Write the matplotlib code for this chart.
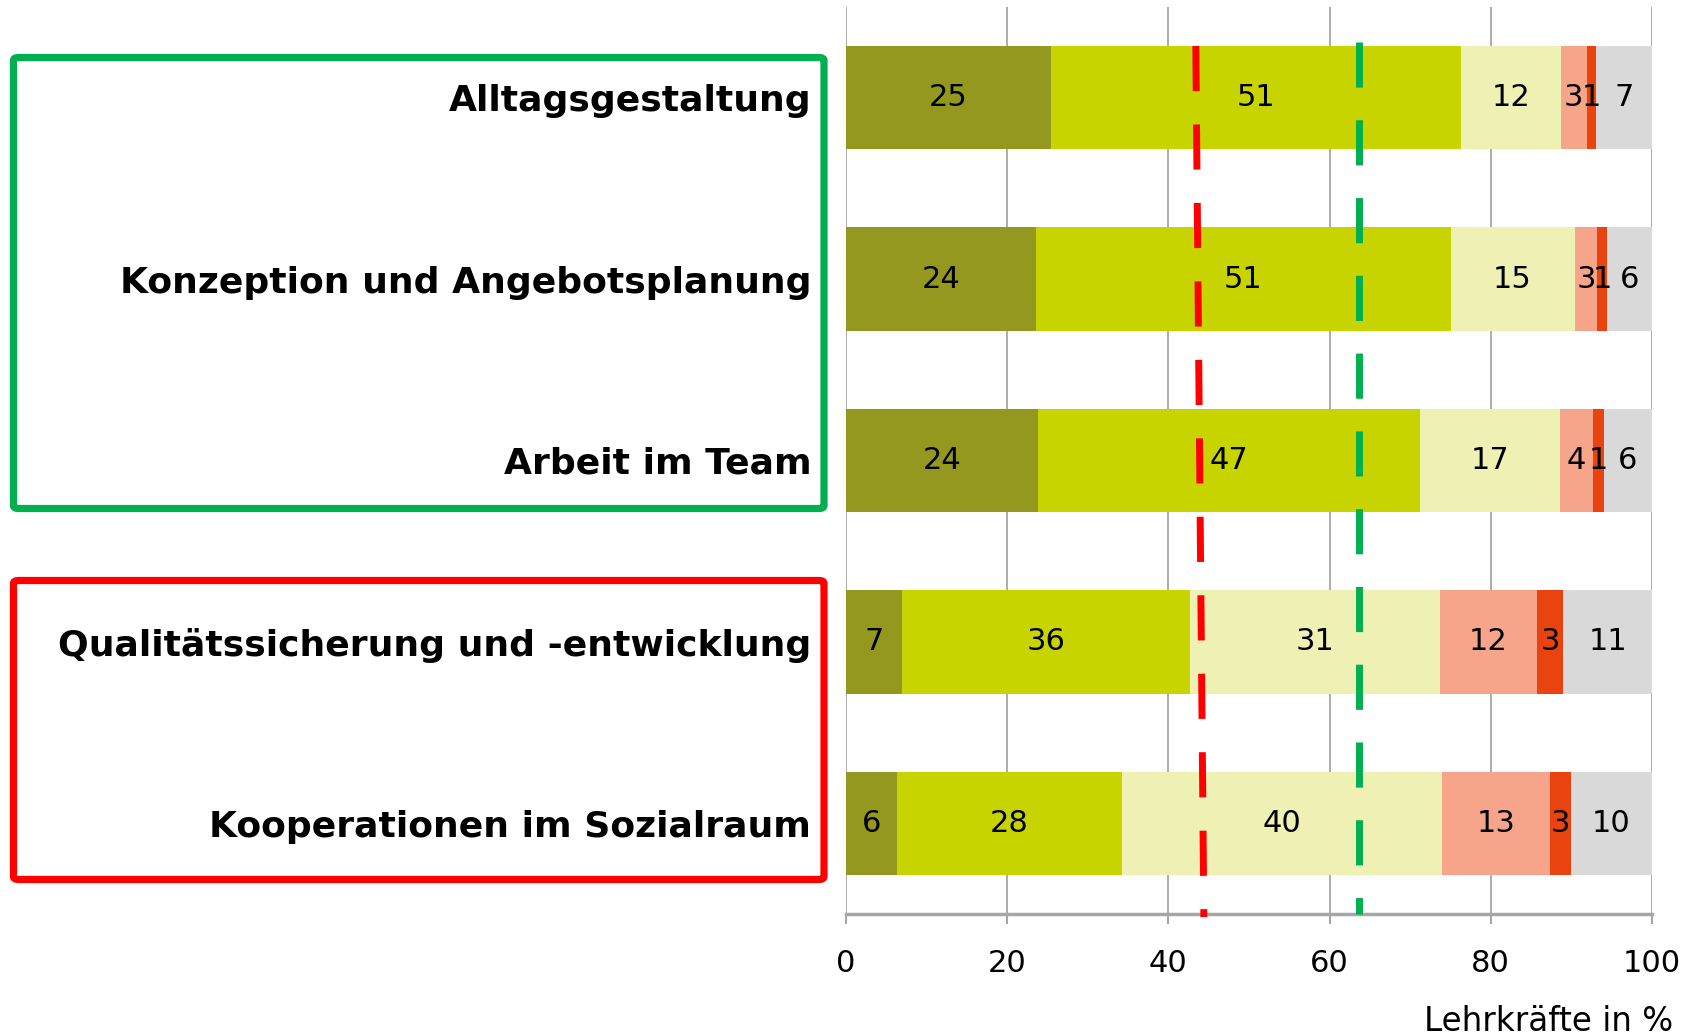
import matplotlib.pyplot as plt
from matplotlib.patches import FancyBboxPatch

# -----------------------------
# Daten
# -----------------------------
categories = ["Alltagsgestaltung",
              "Konzeption und Angebotsplanung",
              "Arbeit im Team",
              "Qualitätssicherung und -entwicklung",
              "Kooperationen im Sozialraum"]

# Anteile je Antwortstufe (Lehrkräfte in %)
seg1 = [25.4, 23.6, 23.8, 7.0, 6.3]
seg2 = [50.9, 51.4, 47.4, 35.7, 27.9]
seg3 = [12.4, 15.4, 17.4, 31.0, 39.8]
seg4 = [3.2, 2.8, 4.1, 12.0, 13.3]
seg5 = [1.2, 1.2, 1.3, 3.3, 2.6]
seg6 = [6.9, 5.6, 6.0, 11.0, 10.1]

# angezeigte Werte
lab1 = [25, 24, 24, 7, 6]
lab2 = [51, 51, 47, 36, 28]
lab3 = [12, 15, 17, 31, 40]
lab4 = [3, 3, 4, 12, 13]
lab5 = [1, 1, 1, 3, 3]
lab6 = [7, 6, 6, 11, 10]

xticks = [0, 20, 40, 60, 80, 100]

# Markierungslinien (x oben, x unten)
red_line_x = [43.4, 44.4]
green_line_x = [63.7, 63.7]

colors = ["#94981F", "#C8D400", "#EEF0B4", "#F7A58A", "#E9430F", "#D9D9D9"]

# -----------------------------
# Plot
# -----------------------------
fig = plt.figure(figsize=(16.95, 10.35), dpi=100)
ax = fig.add_axes([846/1695, 1-914/1035, (1652-846)/1695, (914-7)/1035])

segs = [seg1, seg2, seg3, seg4, seg5, seg6]
labs = [lab1, lab2, lab3, lab4, lab5, lab6]
ypos = list(range(len(categories)))
left = [0.0]*len(categories)
for vals, lbls, col in zip(segs, labs, colors):
    ax.barh(ypos, vals, left=left, height=0.57, color=col, zorder=2,
            edgecolor="none")
    for y, l, v, t in zip(ypos, left, vals, lbls):
        ax.text(l + v/2, y, str(t), ha="center", va="center",
                fontsize=22, zorder=5)
    left = [a + b for a, b in zip(left, vals)]

ax.set_xlim(0, 100)
ax.set_ylim(4.5, -0.5)
ax.set_xticks(xticks)
ax.tick_params(axis="x", labelsize=22, length=7, width=1.5, color="#A6A6A6",
               pad=18)
ax.set_yticks(ypos)
ax.set_yticklabels(categories, fontsize=26, fontweight="bold")
ax.tick_params(axis="y", length=0, pad=25)
ax.grid(axis="x", color="#A6A6A6", linewidth=1.3, zorder=0)
for s in ["top", "right", "left"]:
    ax.spines[s].set_visible(False)
ax.spines["bottom"].set_color("#A6A6A6")
ax.spines["bottom"].set_linewidth(2.5)

ax.plot(red_line_x, [-0.285, 4.517], color="#FF0000", linewidth=5,
        dashes=(6.5, 4.8), zorder=4, clip_on=False)
ax.plot(green_line_x, [-0.307, 4.5], color="#00B050", linewidth=5,
        dashes=(6.5, 4.7), zorder=4, clip_on=False)

ax.text(1.026, -0.118, "Lehrkräfte in %", transform=ax.transAxes,
        ha="right", va="center", fontsize=23.5)

# Rahmen um die Gruppen
W, H = 1695, 1035
for (top, bot, col) in [(57.5, 508.5, "#00B050"), (580.5, 879.5, "#FF0000")]:
    box = FancyBboxPatch((13.5/W, 1-bot/H), (824-13.5)/W, (bot-top)/H,
                         boxstyle="round,pad=0,rounding_size=0.003",
                         transform=fig.transFigure, fill=False,
                         edgecolor=col, linewidth=5.2)
    fig.patches.append(box)

fig.savefig("out.png", dpi=100)
